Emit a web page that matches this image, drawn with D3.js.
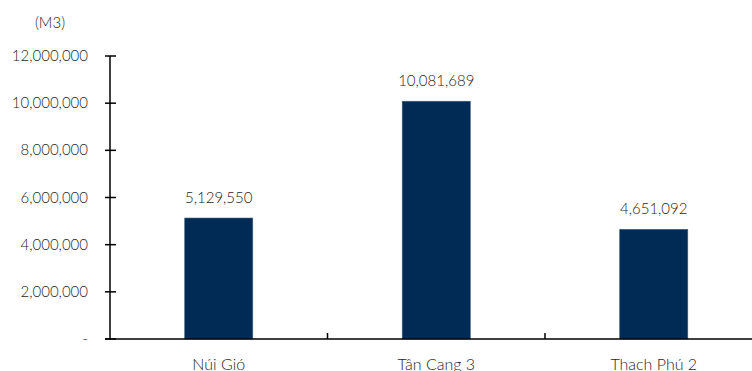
<!DOCTYPE html>
<html>
<head>
<meta charset="utf-8">
<script src="https://cdn.jsdelivr.net/npm/d3@7"></script>
<style>
  body { margin: 0; background: #fff; }
  svg { display: block; font-family: Lato, "Open Sans", sans-serif; font-weight: 300; }
</style>
</head>
<body>
<svg width="752" height="371"></svg>
<script>
// dữ liệu
const categories = ["Núi Gió", "Tân Cang 3", "Thach Phú 2"];
const volumes = [5129550, 10081689, 4651092];
const yTicks = [0, 2000000, 4000000, 6000000, 8000000, 10000000, 12000000];
const unitLabel = "(M3)";

const svg = d3.select("svg");
const textColor = "#1e1e1e";

// thang đo
const x = d3.scaleBand().domain(categories).range([110, 762.5]).padding(0);
const y = d3.scaleLinear().domain([0, 12000000]).range([339, 56]);
const barW = x.bandwidth() * 0.313;

const fmt = d3.format(",");

// trục Y
svg.append("line")
  .attr("x1", 110).attr("x2", 110)
  .attr("y1", y(12000000)).attr("y2", y(0))
  .attr("stroke", "#000").attr("stroke-width", 1.5);

svg.selectAll(".ytick")
  .data(yTicks)
  .enter().append("line")
  .attr("x1", 105).attr("x2", 116)
  .attr("y1", d => y(d)).attr("y2", d => y(d))
  .attr("stroke", "#000").attr("stroke-width", 1.5);

svg.selectAll(".ylab")
  .data(yTicks)
  .enter().append("text")
  .attr("x", 88)
  .attr("y", d => y(d) + 5)
  .attr("text-anchor", "end")
  .attr("fill", textColor)
  .style("font-size", "15px")
  .text(d => d === 0 ? "-" : fmt(d));

svg.append("text")
  .attr("x", 50).attr("y", 28)
  .attr("text-anchor", "middle")
  .attr("fill", textColor)
  .style("font-size", "15px")
  .text(unitLabel);

// cột
svg.selectAll("rect")
  .data(volumes)
  .enter().append("rect")
  .attr("x", (d, i) => x(categories[i]) + x.bandwidth() / 2 - barW / 2)
  .attr("y", d => y(d))
  .attr("width", barW)
  .attr("height", d => y(0) - y(d))
  .attr("fill", "#012b54")
  .attr("stroke", "#3b5f82")
  .attr("stroke-width", 0.6);

// nhãn giá trị
svg.selectAll(".vlab")
  .data(volumes)
  .enter().append("text")
  .attr("x", (d, i) => x(categories[i]) + x.bandwidth() / 2)
  .attr("y", d => y(d) - 15)
  .attr("text-anchor", "middle")
  .attr("fill", textColor)
  .style("font-size", "15px")
  .text(d => fmt(d));

// trục X
svg.append("line")
  .attr("x1", 105).attr("x2", 752)
  .attr("y1", y(0)).attr("y2", y(0))
  .attr("stroke", "#000").attr("stroke-width", 1.5);

svg.selectAll(".xtick")
  .data(categories.slice(1))
  .enter().append("line")
  .attr("x1", d => x(d)).attr("x2", d => x(d))
  .attr("y1", y(0) - 6).attr("y2", y(0))
  .attr("stroke", "#000").attr("stroke-width", 1.5);

svg.selectAll(".xlab")
  .data(categories)
  .enter().append("text")
  .attr("x", d => x(d) + x.bandwidth() / 2)
  .attr("y", 370)
  .attr("text-anchor", "middle")
  .attr("fill", textColor)
  .style("font-size", "16px")
  .text(d => d);
</script>
</body>
</html>
